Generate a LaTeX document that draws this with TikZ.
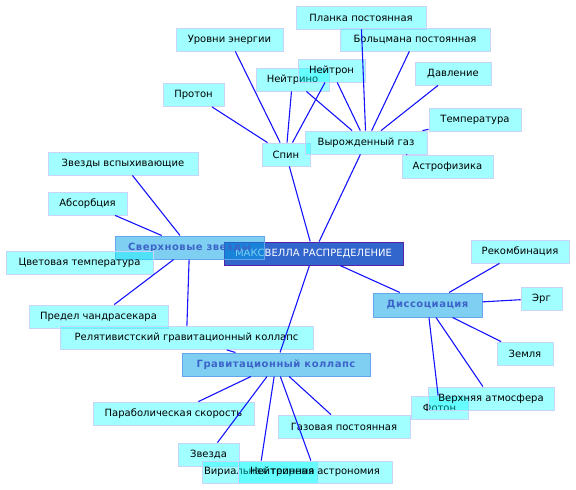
\documentclass[tikz,border=0pt]{standalone}
\usepackage{fontspec}
\setmainfont{DejaVu Sans}
\newfontfamily\hubfont[LetterSpace=5]{DejaVu Sans}
\usepackage{tikz}
\usetikzlibrary{positioning}
\definecolor{leaffill}{RGB}{0,255,255}
\definecolor{leafedge}{RGB}{200,212,250}
\definecolor{hubfill}{RGB}{0,160,230}
\definecolor{hubedge}{RGB}{100,165,235}
\definecolor{hubtext}{RGB}{60,100,200}
\definecolor{rootfill}{RGB}{51,102,204}
\definecolor{rootedge}{RGB}{85,35,165}
\definecolor{linkblue}{RGB}{20,20,255}

\begin{document}
\begin{tikzpicture}[x=1pt, y=-1pt,
    every node/.style={font=\fontsize{10}{12}\selectfont, align=center, inner sep=0pt},
    leaf/.style={draw=leafedge, line width=0.8pt, fill=leaffill, fill opacity=0.37,
                 text opacity=1, minimum height=23pt},
    hub/.style={draw=hubedge, line width=1pt, fill=hubfill, fill opacity=0.5,
                text opacity=1, text=hubtext, minimum height=23pt,
                font=\fontsize{10}{12}\selectfont\hubfont\bfseries},
    root/.style={draw=rootedge, line width=1pt, fill=rootfill, text=white,
                 minimum height=23pt},
    link/.style={draw=linkblue, line width=1.1pt}]
  \useasboundingbox (0,0) rectangle (576,490);

  % centre
  \node[root, minimum width=179pt] (maxwell) at (313.5,253.5) {МАКСВЕЛЛА РАСПРЕДЕЛЕНИЕ};

  % upper part
  \node[leaf, minimum width=48pt]  (spin)     at (286,154.5)  {Спин};
  \node[leaf, minimum width=107pt] (levels)   at (229.5,39.5) {Уровни энергии};
  \node[leaf, minimum width=61pt]  (proton)   at (193.5,95)   {Протон};
  \node[leaf, minimum width=73pt]  (neutrino) at (292.5,79.5) {Нейтрино};
  \node[leaf, minimum width=67pt]  (neutron)  at (331.5,70.5) {Нейтрон};
  \node[leaf, minimum width=130pt] (planck)   at (361,17.5)   {Планка постоянная};
  \node[leaf, minimum width=150pt] (boltz)    at (415,39.5)   {Больцмана постоянная};
  \node[leaf, minimum width=76pt]  (pressure) at (453,73.5)   {Давление};
  \node[leaf, minimum width=92pt]  (temper)   at (475,119.5)  {Температура};
  \node[leaf, minimum width=122pt] (degas)    at (366,142.5)  {Вырожденный газ};
  \node[leaf, minimum width=91pt]  (astro)    at (447.5,166.5) {Астрофизика};

  % left part
  \node[leaf, minimum width=150pt] (flares)   at (123,163.5)  {Звезды вспыхивающие};
  \node[leaf, minimum width=79pt]  (absorb)   at (87.5,203.5) {Абсорбция};
  \node[hub,  minimum width=149pt] (super)    at (189.5,247.5) {Сверхновые звезды};
  \node[leaf, minimum width=147pt] (colortmp) at (79.5,262.5) {Цветовая температура};
  \node[leaf, minimum width=139pt] (chandra)  at (98.5,316.5) {Предел чандрасекара};
  \node[leaf, minimum width=253pt] (relcoll)  at (186.5,338)  {Релятивистский гравитационный коллапс};

  % lower part
  \node[hub,  minimum width=188pt] (grav)     at (276,364.5)  {Гравитационный коллапс};
  \node[leaf, minimum width=161pt] (parab)    at (173.5,413.5) {Параболическая скорость};
  \node[leaf, minimum width=61pt]  (star)     at (208.5,454.5) {Звезда};
  \node[leaf, minimum width=115pt, minimum height=22pt] (virial)  at (259.5,472) {Вириальная теорема};
  \node[leaf, minimum width=154pt, minimum height=22pt] (nuastro) at (315,472)   {Нейтринная астрономия};
  \node[leaf, minimum width=132pt] (gasconst) at (344,426.5)  {Газовая постоянная};

  % right part
  \node[hub,  minimum width=109pt, minimum height=24pt] (dissoc) at (427.5,305) {Диссоциация};
  \node[leaf, minimum width=98pt]  (recomb)   at (520,251.5)  {Рекомбинация};
  \node[leaf, minimum width=41pt]  (erg)      at (541.5,298.5) {Эрг};
  \node[leaf, minimum width=56pt]  (earth)    at (525,353.5)  {Земля};
  \node[leaf, minimum width=57pt]  (photon)   at (439.5,407.5) {Фотон};
  \node[leaf, minimum width=126pt] (upperatm) at (491,398.5)  {Верхняя атмосфера};

  % links
  \draw[link] (spin) -- (levels);
  \draw[link] (spin) -- (proton);
  \draw[link] (spin) -- (neutrino);
  \draw[link] (spin) -- (neutron);
  \draw[link] (spin) -- (maxwell);
  \draw[link] (degas) -- (neutrino);
  \draw[link] (degas) -- (neutron);
  \draw[link] (degas) -- (planck);
  \draw[link] (degas) -- (boltz);
  \draw[link] (degas) -- (pressure);
  \draw[link] (degas) -- (temper);
  \draw[link] (degas) -- (astro);
  \draw[link] (degas) -- (maxwell);

  \draw[link] (super) -- (flares);
  \draw[link] (super) -- (absorb);
  \draw[link] (super) -- (chandra);
  \draw[link] (super) -- (relcoll);

  \draw[link] (maxwell) -- (grav);
  \draw[link] (grav) -- (relcoll);
  \draw[link] (grav) -- (parab);
  \draw[link] (grav) -- (star);
  \draw[link] (grav) -- (virial);
  \draw[link] (grav) -- (nuastro);
  \draw[link] (grav) -- (gasconst);

  \draw[link] (maxwell) -- (dissoc);
  \draw[link] (dissoc) -- (recomb);
  \draw[link] (dissoc) -- (erg);
  \draw[link] (dissoc) -- (earth);
  \draw[link] (dissoc) -- (upperatm);
  \draw[link] (dissoc) -- (photon);
\end{tikzpicture}
\end{document}
